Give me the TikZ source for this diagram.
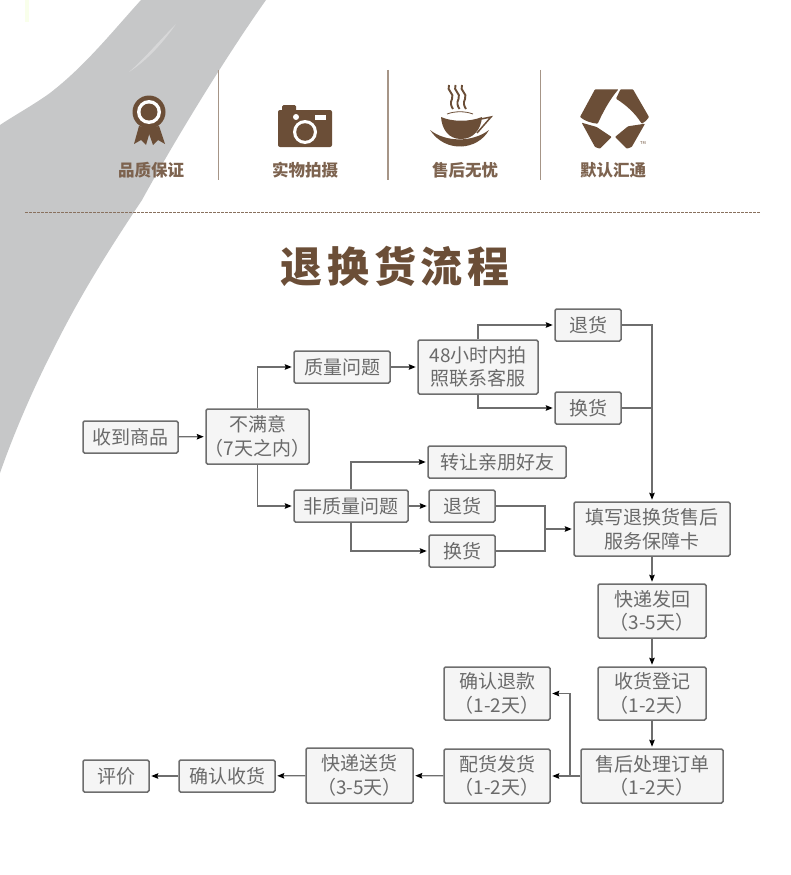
\documentclass[tikz,border=0pt]{standalone}
\usepackage{fontspec}
\setmainfont{Noto Sans CJK SC}
\usetikzlibrary{arrows.meta}
\definecolor{brn}{HTML}{6B4E37}
\definecolor{boxln}{HTML}{6E6E6E}
\definecolor{boxtx}{HTML}{6A6A6A}
\definecolor{swoosh}{HTML}{C6C7C8}
\tikzset{
 fbox/.style={draw=boxln,line width=1.5pt,fill=white!96!black,rounded corners=1.5pt,text=boxtx,align=center,font=\fontsize{19}{23.5}\selectfont,inner sep=0pt},
 conn/.style={draw=boxln,line width=1.2pt,shorten >=1.5pt,-{Stealth[length=7pt,width=5.5pt,inset=1pt,black]}},
 plainln/.style={draw=boxln,line width=1.2pt},
 sep/.style={draw=brn!60,line width=1.1pt},
 lab/.style={text=brn!88,font=\fontsize{16.5}{18}\selectfont\bfseries,inner sep=0pt},
}
\newcommand{\bx}[7]{\node[fbox,minimum width=#3pt-#2pt,minimum height=#5pt-#4pt] (#1) at ({(#2+#3)/2},{(#4+#5)/2}) {#6};}
\begin{document}
\begin{tikzpicture}[x=1pt,y=-1pt]
\useasboundingbox (0,0) rectangle (790,875);
\fill[white] (0,0) rectangle (790,875);
% swoosh
\fill[swoosh] (141,0) .. controls (112,32) and (85,66) .. (50,93) .. controls (35,104) and (15,115) .. (0,125) -- (0,473) .. controls (15,430) and (35,385) .. (53,350) .. controls (80,295) and (112,245) .. (142,200) .. controls (175,140) and (225,58) .. (266,0) -- cycle;
\fill[white,opacity=.3] (129,72) .. controls (145,58) and (160,40) .. (176,24) .. controls (165,40) and (148,60) .. (129,72) -- cycle;
\fill[green!30!yellow!8] (25,0) rectangle (29,22);
% separators
\draw[sep] (218.5,70) -- (218.5,180);
\draw[sep] (388,70) -- (388,180);
\draw[sep] (540.5,70) -- (540.5,180);
\draw[brn!80,line width=1.2pt,dash pattern=on 2.5pt off 1.5pt] (25,212.5) -- (760,212.5);
% rosette
\fill[brn] (139,126) -- (134,144) -- (141,140) -- (146,145) -- (151,128) -- cycle;
\fill[brn] (159,126) -- (165,144) -- (158,140) -- (153,145) -- (147,128) -- cycle;
\fill[brn] (149,112) circle (16.5);
\fill[white] (149,112) circle (12);
\fill[brn] (149,112) circle (8.5);
\node[lab] (l1) at (151,170) {品质保证};
% camera
\fill[brn,rounded corners=2pt] (278,147) rectangle (332,110);
\fill[brn,rounded corners=1.5pt] (282,105) rectangle (296,114);
\fill[white] (296,117) circle (3);
\fill[white] (315,115) rectangle (326,120);
\fill[white] (305,132) circle (12);
\fill[brn] (305,132) circle (8.8);
\node[lab] (l2) at (305,170) {实物拍摄};
% cup
\foreach \dx in {0,6.5,13}{
\draw[brn,line width=1.9pt] (449+\dx,85) .. controls (446+\dx,91) and (455+\dx,93) .. (452+\dx,99) .. controls (450+\dx,103) and (451+\dx,106) .. (453+\dx,109);
}
\draw[brn,line width=.8pt] (447,114) .. controls (455,111) and (465,111) .. (473,114);
\fill[brn] (441,117) .. controls (452,122) and (470,122) .. (482,117) .. controls (481,130) and (473,139) .. (461,139) .. controls (449,139) and (442,130) .. (441,117) -- cycle;
\draw[brn,line width=1.5pt] (481,119) -- (491,117) -- (477,133);
\fill[brn] (430,130) .. controls (445,142) and (472,143) .. (489,130) .. controls (478,150) and (446,154) .. (430,130) -- cycle;
\node[lab] (l3) at (465,170) {售后无忧};
% logo
\fill[brn,rounded corners=.8pt] (595,89.3) -- (618.5,89.3) .. controls (610,99) and (603,112) .. (597.7,123.7) .. controls (591,123) and (585,121) .. (580,117) -- cycle;
\fill[brn,rounded corners=.8pt] (620.5,89.3) -- (633,89.3) -- (649,117) .. controls (647,120) and (645,122) .. (641.7,123.7) .. controls (635,113) and (626,105) .. (616,98.7) -- cycle;
\fill[brn,rounded corners=.8pt] (581.7,122.7) -- (596.7,127) -- (611.7,137) -- (600,148.7) -- (595,147) -- cycle;
\fill[brn,rounded corners=.8pt] (645,123.7) -- (628,126.3) -- (615,137) -- (626.7,148.7) -- (631.7,147) -- cycle;
\node[text=brn,font=\fontsize{4}{4}\selectfont,inner sep=0pt] (tm) at (643,143.5) {TM};
\node[lab] (l4) at (613,170) {默认汇通};
% title
\node[text=brn,font=\fontsize{42}{46}\selectfont\bfseries,inner sep=0pt] (title) at (395,266) {退\kern5pt 换\kern5pt 货\kern5pt 流\kern5pt 程};
% boxes
\bx{recv}{83}{178}{421}{453}{收到商品}{}
\bx{nosat}{206}{309}{409}{464}{不满意\\\makebox[96pt][c]{（7天之内）}}{}
\bx{qual}{294}{390}{351}{383}{质量问题}{}
\bx{nonq}{294}{408}{490}{522}{非质量问题}{}
\bx{photo}{418}{538}{340}{394}{48小时内拍\\照联系客服}{}
\bx{ret}{555}{621}{309}{341}{退货}{}
\bx{exc}{555}{621}{392}{424}{换货}{}
\bx{gift}{428}{566}{446}{478}{转让亲朋好友}{}
\bx{retb}{429}{495}{490}{522}{退货}{}
\bx{excb}{429}{495}{535}{567}{换货}{}
\bx{card}{574}{730}{502}{556}{填写退换货售后\\服务保障卡}{}
\bx{back}{598}{706}{584}{638}{快递发回\\（3-5天）}{}
\bx{log}{598}{706}{667}{720}{收货登记\\（1-2天）}{}
\bx{proc}{581}{723}{749}{803}{售后处理订单\\（1-2天）}{}
\bx{refund}{444}{550}{667}{720}{确认退款\\（1-2天）}{}
\bx{pack}{444}{550}{749}{803}{配货发货\\（1-2天）}{}
\bx{ship}{306}{413}{748}{803}{快递送货\\（3-5天）}{}
\bx{conf}{179}{275}{760}{792}{确认收货}{}
\bx{rate}{83}{149}{760}{792}{评价}{}
% connectors
\draw[conn] (recv) -- (nosat);
\draw[conn] (nosat.north) |- (qual.west);
\draw[conn] (nosat.south) |- (nonq.west);
\draw[conn] (qual) -- (qual.east -| photo.west);
\draw[conn] (photo.north) |- (ret.west);
\draw[conn] (photo.south) |- (exc.west);
\draw[conn] (ret.east) -| (card.north);
\draw[plainln] (exc.east) -- (exc.east -| card.north);
\draw[conn] (nonq.north) |- (gift.west);
\draw[conn] (nonq.east) -- (nonq.east -| retb.west);
\draw[conn] (nonq.south) |- (excb.west);
\coordinate (merge) at (545,529);
\draw[plainln] (retb.east) -| (merge);
\draw[plainln] (excb.east) -| (merge);
\draw[conn] (merge) -- (merge -| card.west);
\draw[conn] (card.south) -- (back.north);
\draw[conn] (back) -- (log);
\draw[conn] (log.south) -- (log.south |- proc.north);
\draw[conn] (proc.west) -- (pack.east);
\coordinate (tee) at (570,776);
\draw[conn] (tee) |- (refund.east);
\draw[conn] (pack) -- (ship);
\draw[conn] (ship) -- (conf);
\draw[conn] (conf) -- (rate);
\end{tikzpicture}
\end{document}
